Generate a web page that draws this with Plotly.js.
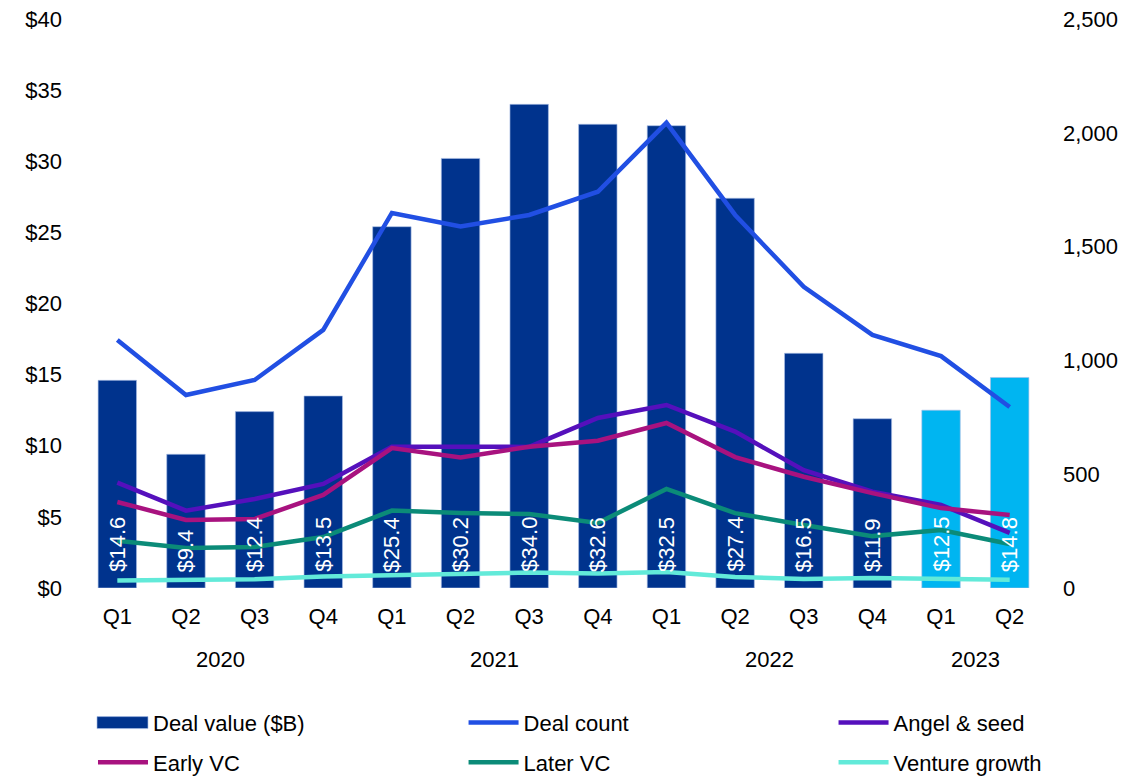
<!DOCTYPE html>
<html>
<head>
<meta charset="utf-8">
<script src="https://cdn.plot.ly/plotly-3.0.1.min.js"></script>
<style>html,body{margin:0;padding:0;background:#fff;}#chart{width:1129px;height:779px;}</style>
</head>
<body>
<div id="chart"></div>
<script>
const years = ["2020","2020","2020","2020","2021","2021","2021","2021","2022","2022","2022","2022","2023","2023"];
const quarters = ["Q1","Q2","Q3","Q4","Q1","Q2","Q3","Q4","Q1","Q2","Q3","Q4","Q1","Q2"];
const dealValue = [14.6, 9.4, 12.4, 13.5, 25.4, 30.2, 34.0, 32.6, 32.5, 27.4, 16.5, 11.9, 12.5, 14.8];
const dealCount = [1090, 848, 914, 1134, 1648, 1588, 1639, 1741, 2044, 1639, 1323, 1112, 1019, 795];
const angelSeed = [463, 340, 391, 457, 621, 620, 620, 747, 804, 687, 518, 423, 365, 242];
const earlyVC = [378, 299, 303, 409, 615, 573, 621, 647, 725, 575, 489, 417, 351, 321];
const laterVC = [208, 176, 180, 224, 340, 330, 325, 286, 435, 329, 277, 228, 255, 193];
const ventureGrowth = [33, 35, 38, 50, 57, 61, 68, 64, 70, 48, 40, 44, 40, 36];

const cats = years.map((y, i) => y + " " + quarters[i]);
const barColors = years.map(y => y === "2023" ? "#00B5F1" : "#00338D");
const font = "Liberation Sans, Arial, sans-serif";
const FS = 22;

function lineTrace(name, y, color, legend) {
  return {type: "scatter", mode: "lines", name: name, x: cats, y: y, yaxis: "y2",
    legend: legend, legendgroup: name,
    line: {color: color, width: 4.5}, hoverinfo: "skip"};
}

const data = [
  {type: "bar", name: "Deal value ($B)", x: cats, y: dealValue, legend: "legend", legendgroup: "dv",
   marker: {color: barColors, line: {color: "rgba(170,190,230,0.8)", width: 0.8}},
   hoverinfo: "skip"},
  lineTrace("Deal count", dealCount, "#214FE3", "legend2"),
  lineTrace("Angel & seed", angelSeed, "#5510BC", "legend3"),
  lineTrace("Early VC", earlyVC, "#A8127F", "legend"),
  lineTrace("Later VC", laterVC, "#0B8B78", "legend2"),
  lineTrace("Venture growth", ventureGrowth, "#62EAD9", "legend3")
];

// bar value labels
const annotations = dealValue.map((v, i) => ({
  x: cats[i], y: 0, xref: "x", yref: "y", text: "$" + v.toFixed(1),
  textangle: -90, showarrow: false, xanchor: "center", yanchor: "bottom", yshift: 14,
  font: {color: "#ffffff", size: FS, family: font}
}));
// year labels centred under their quarters
const uniqueYears = [...new Set(years)];
uniqueYears.forEach(yr => {
  const idx = years.map((y, i) => y === yr ? i : -1).filter(i => i >= 0);
  const mid = idx.reduce((a, b) => a + b, 0) / idx.length;
  annotations.push({x: mid, y: -0.1265, xref: "x", yref: "paper", text: yr, showarrow: false,
    xanchor: "center", yanchor: "middle", font: {size: FS, family: font, color: "#000"}});
});

const legendBase = {orientation: "v", y: -0.2, yanchor: "top", xanchor: "left",
  font: {size: FS, family: font, color: "#000"}, tracegroupgap: 8, itemwidth: 50,
  bgcolor: "rgba(0,0,0,0)"};

const layout = {
  width: 1129, height: 779,
  margin: {l: 83, r: 85, t: 19, b: 191, autoexpand: false},
  paper_bgcolor: "#ffffff", plot_bgcolor: "#ffffff",
  font: {family: font, size: FS, color: "#000000"},
  bargap: 0.44,
  showlegend: true,
  xaxis: {type: "category", tickvals: cats, ticktext: quarters, showgrid: false, zeroline: false,
    showline: false, ticks: "", ticklabelstandoff: 13, tickfont: {size: FS, family: font}},
  yaxis: {range: [0, 40], dtick: 5, tickprefix: "$", showgrid: false, zeroline: false,
    showline: false, ticks: "", ticklabelstandoff: 20, tickfont: {size: FS, family: font}},
  yaxis2: {range: [0, 2500], dtick: 500, tickformat: ",", overlaying: "y", side: "right",
    showgrid: false, zeroline: false, showline: false, ticks: "", ticklabelstandoff: 18,
    tickfont: {size: FS, family: font}},
  legend: Object.assign({}, legendBase, {x: 0.0104}),
  legend2: Object.assign({}, legendBase, {x: 0.396}),
  legend3: Object.assign({}, legendBase, {x: 0.781}),
  annotations: annotations
};

Plotly.newPlot("chart", data, layout, {displayModeBar: false, staticPlot: true}).then(gd => {
  // widen the bar legend swatch into a wide rectangle like the original
  gd.querySelectorAll(".legend .traces").forEach(tr => {
    const txt = tr.querySelector(".legendtext");
    if (txt && txt.textContent === "Deal value ($B)") {
      const p = tr.querySelector(".legendpoints path");
      if (p) {
        const b = p.getBBox();
        const cx = b.x + b.width / 2, cy = b.y + b.height / 2;
        p.setAttribute("d", `M${cx - 26},${cy - 6}h51v12h-51Z`);
      }
    }
  });
});
</script>
</body>
</html>
